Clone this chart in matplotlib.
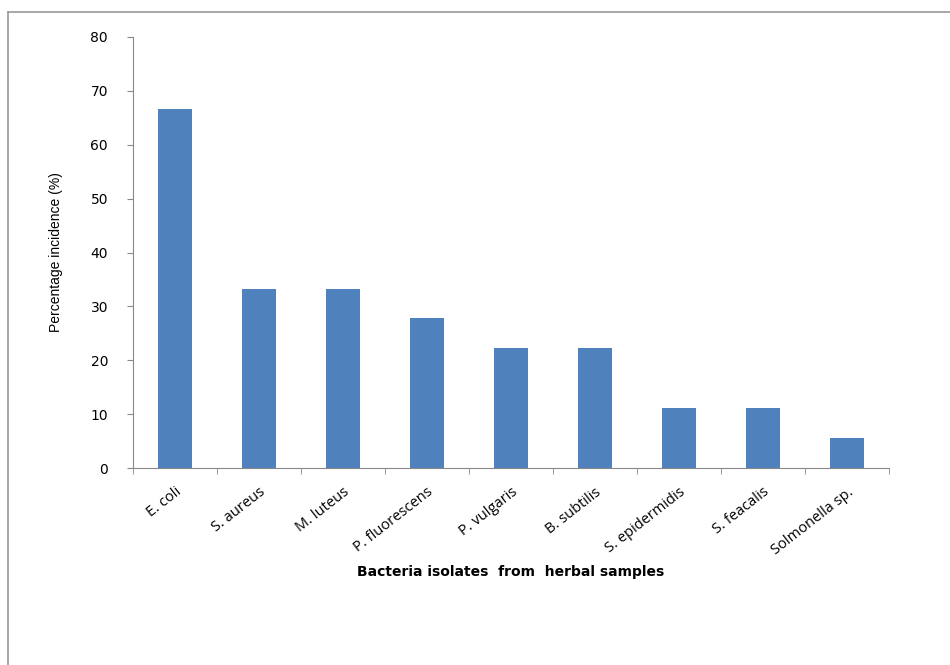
import matplotlib.pyplot as plt
from matplotlib.lines import Line2D

isolates = ['E. coli', 'S. aureus', 'M. luteus', 'P. fluorescens', 'P. vulgaris',
            'B. subtilis', 'S. epidermidis', 'S. feacalis', 'Solmonella sp.']
incidence = [66.7, 33.3, 33.3, 27.8, 22.2, 22.2, 11.1, 11.1, 5.6]
yticks = [0, 10, 20, 30, 40, 50, 60, 70, 80]

fig = plt.figure(figsize=(9.5, 6.65), dpi=100)
ax = fig.add_axes([0.14, 0.2962, 0.796, 0.6482])

x = range(len(isolates))
ax.bar(x, incidence, width=0.4, color='#4f81bd', zorder=2)

ax.set_xlim(-0.5, len(isolates) - 0.5)
ax.set_ylim(0, 80)
ax.set_yticks(yticks)
ax.set_yticklabels([str(v) for v in yticks], fontsize=10, family='DejaVu Sans')
ax.set_xticks(list(x))
ax.set_xticklabels(isolates, rotation=38, ha='right', va='top',
                   rotation_mode='anchor', fontsize=10.5, family='Open Sans')
ax.tick_params(axis='x', length=0, pad=12)
ax.tick_params(axis='y', length=4, color='#888888', pad=14)
# minor ticks at category boundaries
ax.set_xticks([i - 0.5 for i in range(len(isolates) + 1)], minor=True)
ax.tick_params(axis='x', which='minor', length=4, color='#888888')

for s in ['top', 'right']:
    ax.spines[s].set_visible(False)
for s in ['left', 'bottom']:
    ax.spines[s].set_color('#888888')
    ax.spines[s].set_linewidth(0.8)

ax.set_ylabel('Percentage incidence (%)', fontsize=10,
              family='Liberation Sans', labelpad=20)
ax.set_xlabel('Bacteria isolates  from  herbal samples', fontsize=10,
              fontweight='bold', labelpad=5)

# outer frame (left and top edges visible)
fig.add_artist(Line2D([8/950, 8/950], [0, 1 - 12/665], transform=fig.transFigure,
                      color='#999999', lw=1.2))
fig.add_artist(Line2D([8/950, 1], [1 - 12/665, 1 - 12/665], transform=fig.transFigure,
                      color='#999999', lw=1.2))

fig.savefig('out.png', dpi=100)
